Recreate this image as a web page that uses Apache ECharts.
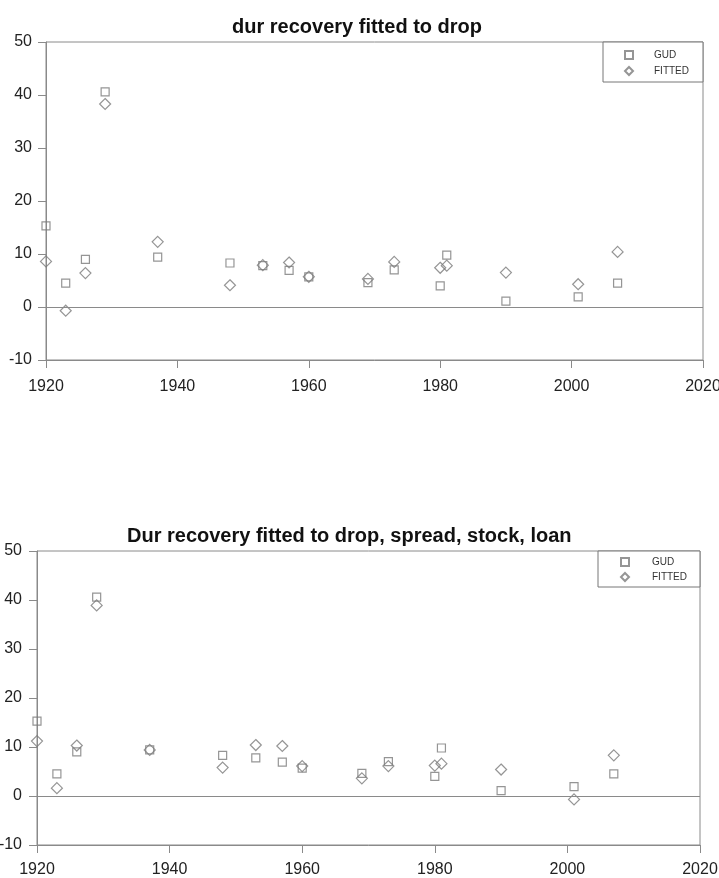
<!DOCTYPE html>
<html>
<head>
<meta charset="utf-8">
<script src="https://cdn.jsdelivr.net/npm/echarts@6/dist/echarts.min.js"></script>
<style>
html,body{margin:0;padding:0;background:#fff;overflow:hidden;}
#chart{width:719px;height:878px;}
</style>
</head>
<body>
<div id="chart"></div>
<script>
// ---- data ----
var years = [1920, 1923, 1926, 1929, 1937, 1948, 1953, 1957, 1960, 1969, 1973, 1980, 1981, 1990, 2001, 2007];
var gud = [15.3, 4.5, 9.0, 40.6, 9.4, 8.3, 7.8, 6.9, 5.7, 4.6, 7.0, 4.0, 9.8, 1.1, 1.9, 4.5];
var fittedDrop = [8.6, -0.7, 6.4, 38.3, 12.3, 4.1, 7.9, 8.4, 5.7, 5.3, 8.5, 7.4, 7.8, 6.5, 4.3, 10.4];
var fittedAll = [11.2, 1.6, 10.3, 38.9, 9.4, 5.8, 10.4, 10.2, 6.1, 3.6, 6.1, 6.2, 6.6, 5.4, -0.7, 8.3];
var titles = ['dur recovery fitted to drop', 'Dur recovery fitted to drop, spread, stock, loan'];
var seriesNames = ['GUD', 'FITTED'];
var xTicks = {min: 1920, max: 2020, interval: 20};
var yTicks = {min: -10, max: 50, interval: 10};

function pairs(xs, ys) { return xs.map(function (x, i) { return [x, ys[i]]; }); }

var lineColor = '#8a8a8a';
var markColor = '#7a7a7a';
var font = 'Liberation Sans, Arial, sans-serif';

function xAxis(gi, margin) {
  return {
    type: 'value', gridIndex: gi, min: xTicks.min, max: xTicks.max, interval: xTicks.interval,
    axisLine: {show: true, onZero: false, lineStyle: {color: lineColor, width: 1}},
    axisTick: {show: true, length: 8, lineStyle: {color: lineColor}},
    axisLabel: {color: '#222', fontSize: 16, fontFamily: font, margin: margin,
      formatter: function (v) { return String(v); }},
    splitLine: {show: false}
  };
}
function yAxis(gi, margin) {
  return {
    type: 'value', gridIndex: gi, min: yTicks.min, max: yTicks.max, interval: yTicks.interval,
    axisLine: {show: true, onZero: false, lineStyle: {color: lineColor, width: 1}},
    axisTick: {show: true, length: 8, lineStyle: {color: lineColor}},
    axisLabel: {color: '#222', fontSize: 16, fontFamily: font, margin: margin},
    splitLine: {show: false}
  };
}
function sq(gi, vals) {
  return {
    name: seriesNames[0], type: 'scatter', xAxisIndex: gi, yAxisIndex: gi,
    data: pairs(years, vals), symbol: 'rect', symbolSize: 8,
    itemStyle: {color: 'rgba(255,255,255,0)', borderColor: markColor, borderWidth: 1.2},
    emphasis: {disabled: true},
    markLine: {
      silent: true, symbol: ['none', 'none'], label: {show: false},
      lineStyle: {color: lineColor, type: 'solid', width: 1.2},
      data: [{yAxis: 0}]
    }
  };
}
function dm(gi, vals) {
  return {
    name: seriesNames[1], type: 'scatter', xAxisIndex: gi, yAxisIndex: gi,
    data: pairs(years, vals), symbol: 'diamond', symbolSize: 11,
    itemStyle: {color: 'rgba(255,255,255,0)', borderColor: markColor, borderWidth: 1.2},
    emphasis: {disabled: true}
  };
}
function legend(left, top, padding, gap, textPad) {
  return {
    data: seriesNames, orient: 'vertical', left: left, top: top,
    padding: padding, itemWidth: 8, itemHeight: 8, itemGap: gap,
    borderColor: '#777', borderWidth: 1, backgroundColor: '#fff',
    textStyle: {fontSize: 10, lineHeight: 10, color: '#333', fontFamily: font, padding: [0, 0, 0, textPad]},
    selectedMode: false
  };
}

var chart = echarts.init(document.getElementById('chart'), null, {renderer: 'canvas'});
chart.setOption({
  backgroundColor: '#fff',
  animation: false,
  title: [
    {text: titles[0], left: 227, top: 12, textStyle: {fontSize: 20, fontWeight: 'bold', color: '#111', fontFamily: font}},
    {text: titles[1], left: 122, top: 521, textStyle: {fontSize: 20, fontWeight: 'bold', color: '#111', fontFamily: font}}
  ],
  legend: [
    legend(603, 42, [8, 14, 6, 21], 6, 16),
    legend(598, 551, [6, 13, 5, 22], 5, 18)
  ],
  grid: [
    {left: 46, top: 42, width: 657, height: 318, outerBoundsMode: 'none', containLabel: false,
      show: true, borderColor: lineColor, borderWidth: 1, backgroundColor: 'transparent'},
    {left: 37, top: 551, width: 663, height: 294, outerBoundsMode: 'none', containLabel: false,
      show: true, borderColor: lineColor, borderWidth: 1, backgroundColor: 'transparent'}
  ],
  xAxis: [xAxis(0, 19), xAxis(1, 17)],
  yAxis: [yAxis(0, 14), yAxis(1, 15)],
  series: [sq(0, gud), dm(0, fittedDrop), sq(1, gud), dm(1, fittedAll)]
});
</script>
</body>
</html>
